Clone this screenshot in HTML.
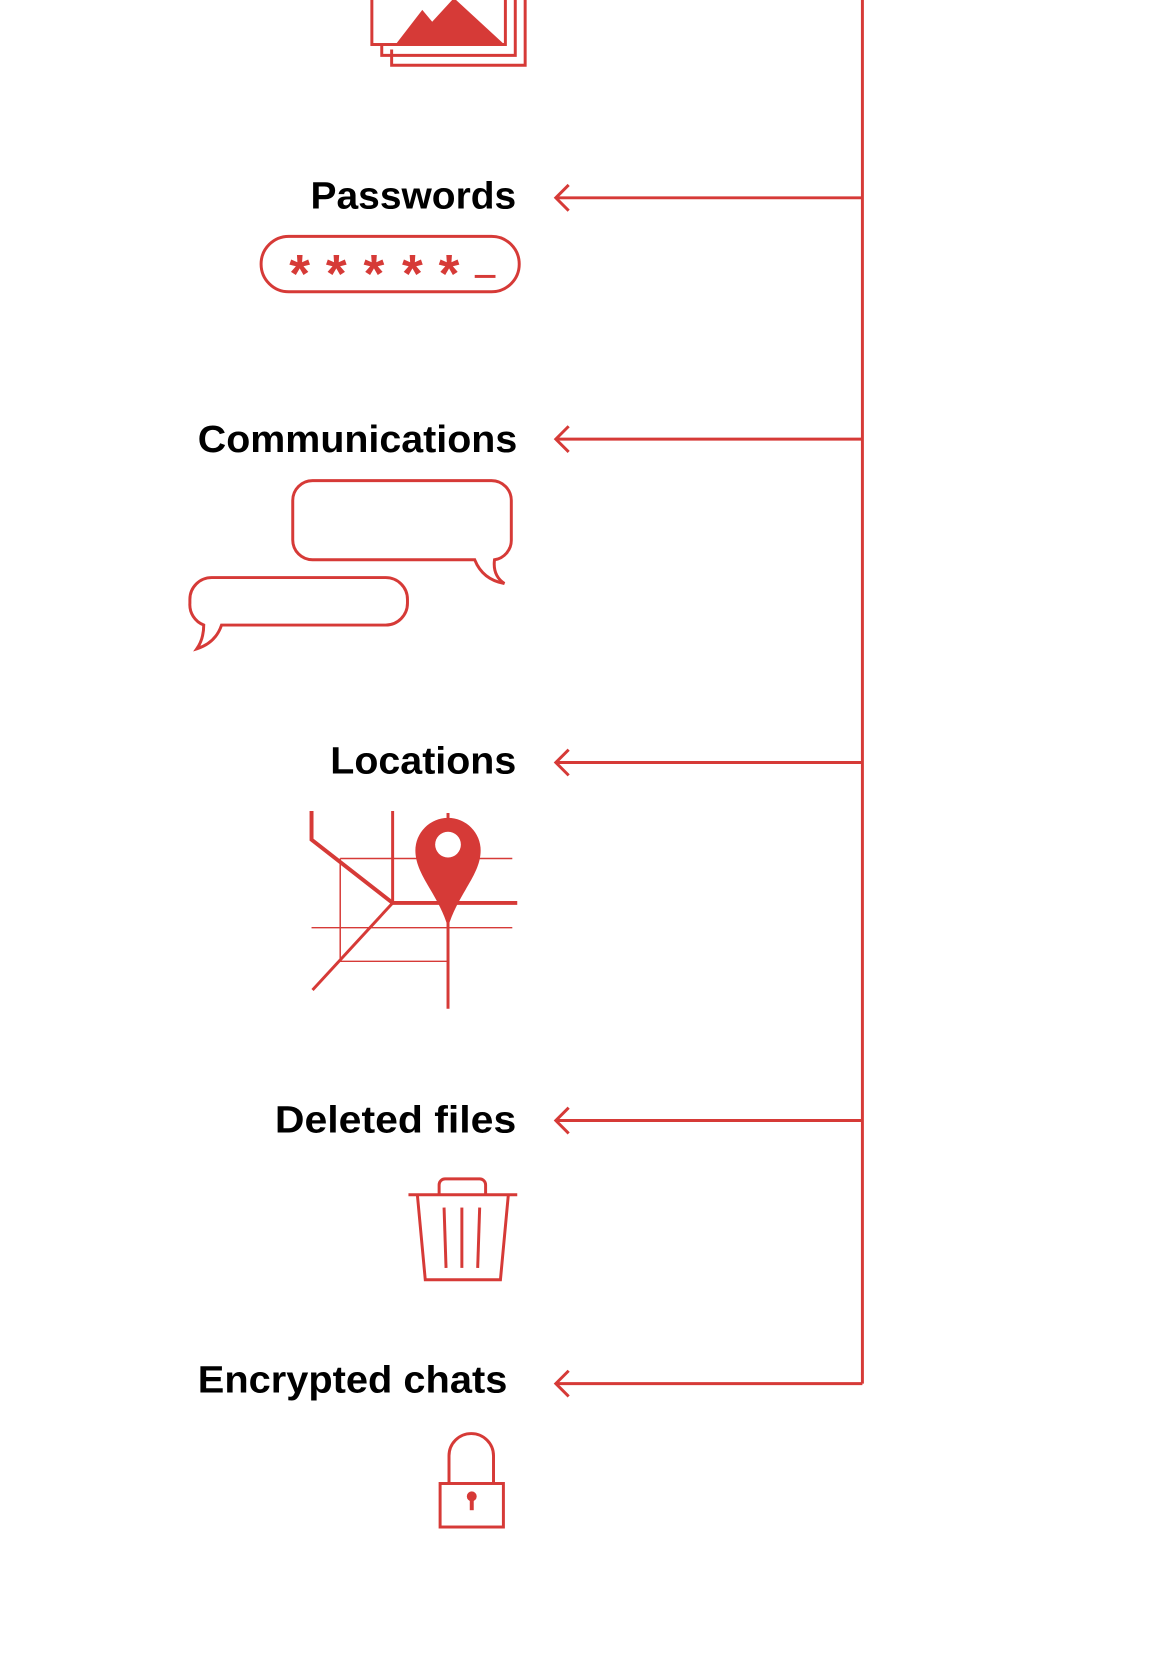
<!DOCTYPE html>
<html><head><meta charset="utf-8"><style>
html,body{margin:0;padding:0;background:#fff;}
svg{display:block;}
text{font-family:"Liberation Sans Narrow","Liberation Sans",sans-serif;font-weight:bold;font-size:38px;fill:#000;}
</style></head><body>
<svg width="1170" height="1656" viewBox="0 0 1170 1656" xmlns="http://www.w3.org/2000/svg">
<g transform="scale(0.989)">
<g fill="none" stroke="#d63a37" stroke-width="3">
<line x1="872" y1="0" x2="872" y2="1399"/>
<g>
<line x1="563" y1="200" x2="872" y2="200"/><polyline points="575,187 562,200 575,213"/>
<line x1="563" y1="444" x2="872" y2="444"/><polyline points="575,431 562,444 575,457"/>
<line x1="563" y1="771" x2="872" y2="771"/><polyline points="575,758 562,771 575,784"/>
<line x1="563" y1="1133" x2="872" y2="1133"/><polyline points="575,1120 562,1133 575,1146"/>
<line x1="563" y1="1399" x2="872" y2="1399"/><polyline points="575,1386 562,1399 575,1412"/>
</g>
<polyline points="396,50 396,66 531,66 531,-5"/>
<polyline points="386,45 386,56 521,56 521,-5"/>
<rect x="376" y="-5" width="135" height="50"/>
<rect x="264" y="239" width="261" height="56" rx="28"/>
<path d="M316,486 H497 A20,20 0 0 1 517,506 V546 A20,20 0 0 1 500,566 Q498,582 510,590 Q488,586 480,566 H316 A20,20 0 0 1 296,546 V506 A20,20 0 0 1 316,486 Z"/>
<path d="M214,584 H390 A22,22 0 0 1 412,606 V610 A22,22 0 0 1 390,632 H224 Q218,650 199,656 Q206,646 206,632 A22,22 0 0 1 192,610 V606 A22,22 0 0 1 214,584 Z"/>
<polyline points="315,820 315,849 397,913 523,913" stroke-width="4"/>
<line x1="397" y1="820" x2="397" y2="913"/>
<line x1="397" y1="913" x2="316" y2="1001"/>
<line x1="453" y1="822" x2="453" y2="1020"/>
<g stroke-width="1.5">
<line x1="344" y1="868" x2="518" y2="868"/>
<line x1="315" y1="938" x2="518" y2="938"/>
<line x1="344" y1="972" x2="453" y2="972"/>
<line x1="344" y1="868" x2="344" y2="972"/>
</g>
<line x1="413" y1="1208" x2="523" y2="1208"/>
<path d="M444,1208 V1198 A6,6 0 0 1 450,1192 H485 A6,6 0 0 1 491,1198 V1208"/>
<polyline points="422,1208 430,1294 506,1294 514,1208"/>
<line x1="449" y1="1221" x2="451" y2="1282"/>
<line x1="467" y1="1221" x2="467" y2="1282"/>
<line x1="485" y1="1221" x2="483" y2="1282"/>
<rect x="445" y="1500" width="64" height="44"/>
<path d="M454,1500 V1472 A22.5,22.5 0 0 1 499,1472 V1500"/>
</g>
<g fill="#d63a37">
<polygon points="400,45 427,10 437,22 459,-2 510,45"/>
<path d="M453,827 A33,33 0 0 1 486,860 C486,885 462,905 453,938 C444,905 420,885 420,860 A33,33 0 0 1 453,827 Z"/>
<circle cx="453" cy="854" r="13" fill="#fff"/>
<circle cx="477" cy="1513" r="5"/>
<rect x="475" y="1513" width="4" height="14"/>
<g style="fill:#d63a37;font-family:'Liberation Sans',sans-serif;font-size:54px">
<text x="303" y="295" style="fill:#d63a37;font-size:54px" text-anchor="middle">*</text>
<text x="340" y="295" style="fill:#d63a37;font-size:54px" text-anchor="middle">*</text>
<text x="378" y="295" style="fill:#d63a37;font-size:54px" text-anchor="middle">*</text>
<text x="417" y="295" style="fill:#d63a37;font-size:54px" text-anchor="middle">*</text>
<text x="454" y="295" style="fill:#d63a37;font-size:54px" text-anchor="middle">*</text>
</g>
<rect x="480" y="278" width="21" height="3"/>
</g>
<text x="314" y="211" textLength="208" lengthAdjust="spacingAndGlyphs">Passwords</text>
<text x="200" y="457" textLength="323" lengthAdjust="spacingAndGlyphs">Communications</text>
<text x="334" y="782" textLength="188" lengthAdjust="spacingAndGlyphs">Locations</text>
<text x="278" y="1145" textLength="244" lengthAdjust="spacingAndGlyphs">Deleted files</text>
<text x="200" y="1408" textLength="313" lengthAdjust="spacingAndGlyphs">Encrypted chats</text>
</g>
</svg>
</body></html>
